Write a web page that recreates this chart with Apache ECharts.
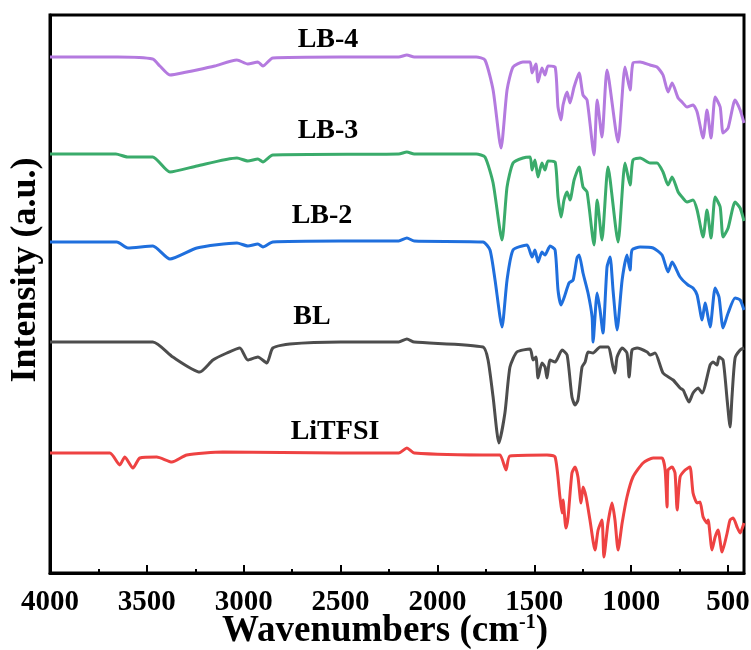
<!DOCTYPE html>
<html>
<head>
<meta charset="utf-8">
<script src="https://cdn.jsdelivr.net/npm/echarts@6/dist/echarts.min.js"></script>
<style>html,body{margin:0;padding:0;background:#fff}#c{width:751px;height:650px}</style>
</head>
<body>
<div id="c"></div>
<script>
// ---- data (wavenumber in cm-1, intensity in arbitrary offset units) ----
const seriesNames = ['LB-4', 'LB-3', 'LB-2', 'BL', 'LiTFSI'];
const xTickValues = [4000, 3500, 3000, 2500, 2000, 1500, 1000, 500];
const xMinorTickValues = [3750, 3250, 2750, 2250, 1750, 1250, 750];

const lb4Wn  = [4000,3650,3470,3433,3381,3294,3242,3150,3035,2979,2927,2901,2850,2500,2200,2158,2120,1800,1755,1713,1672,1641,1610,1559,1522,1512,1492,1481,1461,1445,1430,1393,1378,1362,1352,1331,1316,1295,1269,1249,1228,1192,1176,1151,1125,1068,1032,1006,991,954,903,867,836,810,789,758,738,712,681,660,629,609,588,567,541,526,500,464,438,418];
const lb4Int = [516,516,514,507,498,501,503,507,513,509,511,507,515,516,516,518,516,516,513,483,425,483,506,511,511,500,509,491,505,498,507,506,466,453,468,481,470,486,500,478,473,418,473,436,503,431,506,483,510,511,508,506,498,481,490,475,471,466,468,461,435,463,435,476,466,440,445,473,463,450];

const lb3Wn  = [4000,3660,3600,3470,3381,3242,3035,2979,2927,2901,2850,2200,2158,2120,1800,1755,1713,1667,1641,1610,1559,1522,1512,1497,1481,1461,1445,1430,1393,1378,1362,1347,1331,1316,1295,1269,1249,1228,1192,1176,1151,1120,1068,1032,1006,991,954,903,867,836,810,789,758,738,712,681,660,629,609,588,567,541,526,500,464,438,418];
const lb3Int = [419,419,416,416,401,407,415,412,414,411,418,419,421,419,419,416,390,333,386,410,415,416,403,413,396,410,403,412,411,376,356,373,381,373,393,406,386,381,328,373,333,406,331,410,388,413,415,410,410,401,388,396,381,376,371,373,363,336,363,335,376,366,336,345,371,365,352];

const lb2Wn  = [4000,3655,3598,3469,3381,3242,3035,2979,2927,2901,2850,2500,2200,2158,2120,1765,1729,1703,1667,1641,1610,1538,1512,1497,1481,1461,1445,1419,1393,1378,1362,1342,1321,1300,1280,1269,1249,1223,1202,1197,1176,1161,1146,1125,1109,1094,1073,1047,1022,1006,996,954,887,841,810,789,748,707,681,660,634,619,593,567,547,526,500,464,438,418];
const lb2Int = [331,331,325,327,314,325,330,327,329,326,331,332,332,335,332,331,323,293,246,293,323,328,316,323,311,321,318,327,323,283,268,278,290,293,315,318,300,280,256,231,280,263,240,306,316,283,243,293,318,303,323,326,325,318,301,311,296,288,285,278,253,270,246,285,276,245,260,275,273,263];

const blWn   = [4000,3469,3366,3227,3159,3087,3020,2979,2927,2881,2850,2762,2500,2200,2158,2120,1765,1739,1713,1683,1652,1626,1590,1522,1507,1492,1481,1461,1445,1435,1419,1393,1357,1331,1306,1290,1275,1254,1238,1223,1197,1161,1120,1094,1084,1073,1047,1022,1011,996,970,918,903,877,836,784,748,732,702,681,655,634,593,578,557,547,526,505,490,480,464,438,418];
const blInt  = [231,231,216,201,213,220,225,213,216,210,225,229,231,231,234,231,226,213,176,130,160,206,221,224,213,216,195,210,206,195,213,211,223,218,176,168,173,206,211,221,220,226,226,206,200,216,225,220,196,223,225,221,218,220,200,193,185,183,171,180,185,180,208,211,208,216,213,173,146,176,215,223,225];

const litfsiWn  = [4000,3691,3640,3614,3572,3536,3449,3371,3294,3108,2500,2200,2158,2120,1700,1677,1646,1626,1435,1393,1368,1357,1352,1337,1326,1306,1290,1275,1259,1249,1233,1213,1187,1171,1151,1141,1120,1099,1084,1068,1047,1022,991,939,887,841,825,815,810,789,774,763,748,722,697,681,660,645,629,609,603,583,567,552,531,505,490,474,454,438,418];
const litfsiInt = [120,120,108,116,105,115,116,111,118,121,120,120,125,120,118,118,103,117,118,116,76,60,73,45,56,100,106,96,70,86,76,53,23,43,53,16,50,70,53,23,50,76,96,110,115,115,103,66,103,106,100,63,96,103,106,80,70,71,56,50,53,23,36,43,21,40,53,55,46,40,50];

const seriesWn  = [lb4Wn, lb3Wn, lb2Wn, blWn, litfsiWn];
const seriesInt = [lb4Int, lb3Int, lb2Int, blInt, litfsiInt];
const colors = ['#b47adf', '#3aab6b', '#1f6fdd', '#4d4d4d', '#ee4242'];

const serif = '"Liberation Serif","Times New Roman",serif';

const chart = echarts.init(document.getElementById('c'), null, {renderer: 'canvas'});

const series = seriesNames.map((n, i) => ({
  name: n,
  type: 'line',
  xAxisIndex: 0,
  data: seriesWn[i].map((w, k) => [w, seriesInt[i][k]]),
  showSymbol: false,
  smooth: 0.2,
  lineStyle: {color: colors[i], width: 3},
  itemStyle: {color: colors[i]},
  silent: true,
  animation: false
}));

// curve labels (text placed near each curve)
const labelPos = [[328, 40], [328, 131], [322, 216], [312, 317], [335, 432]];
const graphics = seriesNames.map((n, i) => ({
  type: 'text',
  x: labelPos[i][0], y: labelPos[i][1],
  style: {text: n, font: 'bold 28px ' + serif, fill: '#000', align: 'center', verticalAlign: 'middle'}
}));
graphics.push({
  type: 'text', x: 26, y: 270, rotation: Math.PI / 2,
  style: {text: 'Intensity (a.u.)', font: 'bold 36px ' + serif, fill: '#000', align: 'center', verticalAlign: 'middle'}
});

chart.setOption({
  animation: false,
  backgroundColor: '#fff',
  grid: {left: 50, right: 7, top: 15, bottom: 77, show: true, borderColor: '#000', borderWidth: 3,
         containLabel: false, outerBoundsMode: 'none'},
  xAxis: [{
    type: 'value', inverse: true, min: 418, max: 4000,
    axisLine: {show: true, lineStyle: {color: '#000', width: 3}},
    axisTick: {show: true, inside: true, length: 8, lineStyle: {color: '#000', width: 2}, customValues: xTickValues},
    axisLabel: {show: true, color: '#000', fontFamily: serif, fontWeight: 'bold', fontSize: 29, margin: 15,
                customValues: xTickValues, formatter: v => String(v), hideOverlap: false},
    splitLine: {show: false},
    name: 'Wavenumbers (cm{sup|-1})',
    nameLocation: 'middle', nameGap: 40, nameMoveOverlap: false,
    nameTextStyle: {color: '#000', fontFamily: serif, fontWeight: 'bold', fontSize: 37, padding: [0, 24, 0, 0],
      rich: {sup: {fontFamily: serif, fontWeight: 'bold', fontSize: 20, color: '#000', verticalAlign: 'top', padding: [0, 0, 14, 0]}}}
  }, {
    type: 'value', inverse: true, min: 418, max: 4000, position: 'bottom',
    axisLine: {show: false},
    axisTick: {show: true, inside: true, length: 4, lineStyle: {color: '#000', width: 2}, customValues: xMinorTickValues},
    axisLabel: {show: false},
    splitLine: {show: false}
  }],
  yAxis: {
    type: 'value', min: 0, max: 558,
    axisLine: {show: true, lineStyle: {color: '#000', width: 3}},
    axisTick: {show: false}, axisLabel: {show: false}, splitLine: {show: false}
  },
  series: series,
  graphic: graphics
});
</script>
</body>
</html>
